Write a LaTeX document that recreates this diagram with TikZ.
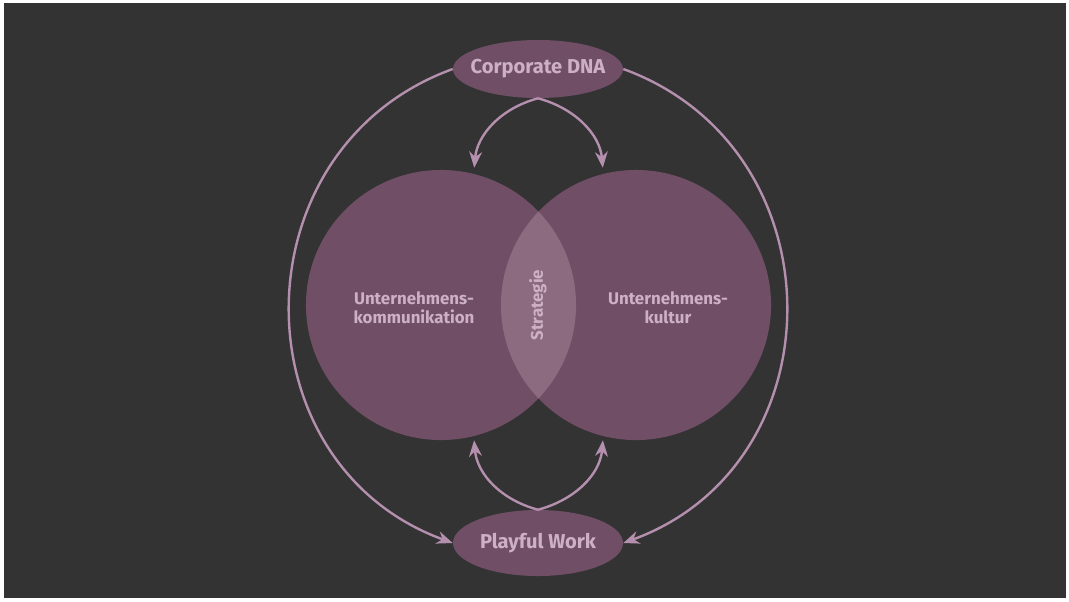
\documentclass[tikz,border=0pt]{standalone}
\usepackage{fontspec}
\setmainfont{Fira Sans}
\usetikzlibrary{shapes.geometric,arrows.meta}
\definecolor{bgdark}{HTML}{333333}
\definecolor{venn}{HTML}{704F66}
\definecolor{lens}{HTML}{8C6B80}
\definecolor{txt}{HTML}{CDB0C6}
\definecolor{ringline}{HTML}{B590AE}

\begin{document}
\begin{tikzpicture}[x=0.025cm, y=-0.025cm, >={Stealth[length=0.4cm,width=0.32cm]}]
	\tikzstyle{pill} = [ellipse, fill=venn, inner xsep=-0.2cm, inner ysep=0pt, minimum width=4.25cm, text=txt, font=\bfseries\fontsize{14.3}{16}\selectfont]
	\tikzstyle{venncircle} = [circle, fill=venn, minimum size=6.75cm, inner sep=0pt]
	\tikzstyle{circtext} = [text=txt, align=center, font=\bfseries\fontsize{12}{13.5}\selectfont]
	\tikzstyle{link} = [->, ringline, line width=0.06cm]
	\useasboundingbox (0,0) rectangle (1069,601);
	\fill[white] (0,0) rectangle (1069,601);
	\fill[bgdark] (4,3) rectangle (1066,598);
	% the two circles and their overlap
	\node[venncircle] (komm) at (441,305) {};
	\node[venncircle] (kult) at (636,305) {};
	\begin{scope}
	  \clip (komm.center) circle (3.375cm);
	  \fill[lens] (kult.center) circle (3.375cm);
	\end{scope}
	\node[circtext] (kommtext) at (414,308) {Unternehmens-\\kommunikation};
	\node[circtext] (kulttext) at (668,308) {Unternehmens-\\kultur};
	\node[circtext, rotate=90] (strat) at (538,305) {Strategie};
	% top and bottom
	\node[pill, minimum height=1.45cm] (dna) at (538,69) {Corporate DNA};
	\node[pill, minimum height=1.65cm] (play) at (538,543) {Playful Work};
	\path[link]
	  (dna.west) edge[out=200, in=160, looseness=1.25] (play.west)
	  (dna.east) edge[out=-20, in=20, looseness=1.25] (play.east)
	  (dna.south) edge[out=195, in=85, shorten >=0.15cm] (komm.76)
	  (dna.south) edge[out=-15, in=95, shorten >=0.15cm] (kult.104)
	  (play.north) edge[out=165, in=-85, shorten >=0.1cm] (komm.-76)
	  (play.north) edge[out=15, in=-95, shorten >=0.1cm] (kult.-104)
	;
\end{tikzpicture}
\end{document}
